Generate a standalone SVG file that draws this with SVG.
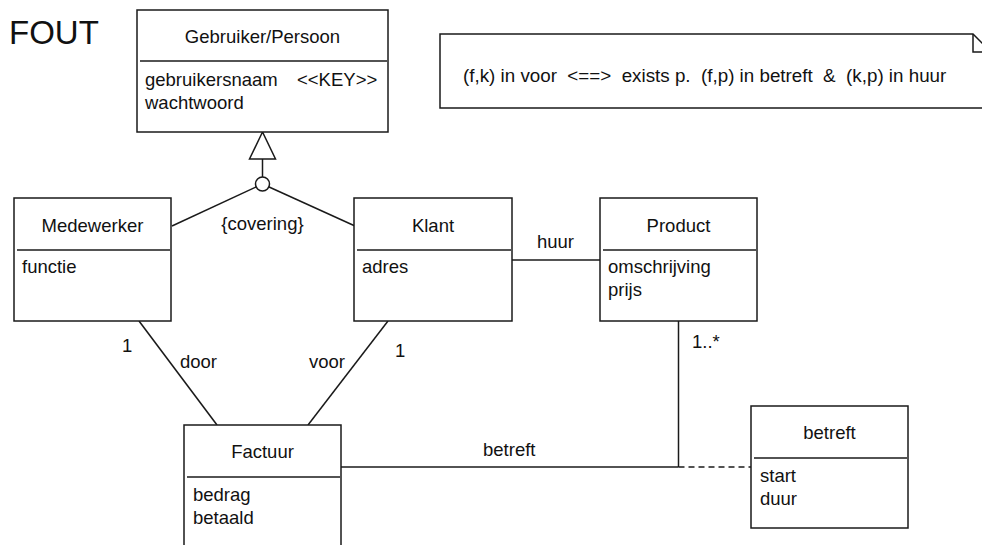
<svg xmlns="http://www.w3.org/2000/svg" width="982" height="545" viewBox="0 0 982 545">
<style>
  text { font-family: "Liberation Sans", Arial, sans-serif; font-size: 18.5px; fill: #111; }
  .t { text-anchor: middle; }
  .box { fill: #fff; stroke: #1a1a1a; stroke-width: 1.5; }
  .ln { fill: none; stroke: #1a1a1a; stroke-width: 1.5; }
  .dash { fill: none; stroke: #1a1a1a; stroke-width: 1.5; stroke-dasharray: 6 4; }
</style>
<rect x="0" y="0" width="982" height="545" fill="#fff"/>
<text x="9" y="44" style="font-size:33px">FOUT</text>

<g id="connectors">
  <line class="ln" x1="262.5" y1="159" x2="262.5" y2="184"/>
  <line class="ln" x1="262.5" y1="184" x2="172" y2="226"/>
  <line class="ln" x1="262.5" y1="184" x2="355" y2="226"/>
  <polygon class="box" points="262.5,132 249.5,159 275.5,159"/>
  <circle class="box" cx="262.5" cy="184" r="7"/>
  <text class="t" x="262.5" y="230">{covering}</text>
  <line class="ln" x1="512" y1="260" x2="600" y2="260"/>
  <text x="537" y="248">huur</text>
  <line class="ln" x1="139" y1="321" x2="217" y2="425"/>
  <text x="122" y="352">1</text>
  <text x="180" y="368">door</text>
  <line class="ln" x1="388" y1="321" x2="308" y2="425"/>
  <text x="309" y="368">voor</text>
  <text x="395" y="357">1</text>
  <line class="ln" x1="678.5" y1="321" x2="678.5" y2="467"/>
  <text x="692" y="348">1..*</text>
  <line class="ln" x1="341" y1="467" x2="678.5" y2="467"/>
  <text x="483" y="456">betreft</text>
  <line class="dash" x1="678.5" y1="467" x2="751" y2="467"/>
</g>

<g id="note">
  <path class="box" d="M440 34 H973 L991 52 V108 H440 Z"/>
  <path class="ln" d="M973 34 V52 H991"/>
  <text x="463" y="82" style="font-size:18.8px" xml:space="preserve">(f,k) in voor  &lt;==&gt;  exists p.  (f,p) in betreft  &amp;  (k,p) in huur</text>
</g>

<g id="gebruiker">
  <rect class="box" x="137" y="10" width="251" height="122"/>
  <line class="ln" x1="140" y1="61" x2="387" y2="61"/>
  <text class="t" x="262.5" y="43">Gebruiker/Persoon</text>
  <text x="145" y="86">gebruikersnaam<tspan x="297">&lt;&lt;KEY&gt;&gt;</tspan></text>
  <text x="145" y="109">wachtwoord</text>
</g>

<g id="medewerker">
  <rect class="box" x="14" y="198" width="157" height="123"/>
  <line class="ln" x1="17" y1="250" x2="170" y2="250"/>
  <text class="t" x="92.5" y="232">Medewerker</text>
  <text x="22" y="273">functie</text>
</g>

<g id="klant">
  <rect class="box" x="354" y="198" width="158" height="123"/>
  <line class="ln" x1="357" y1="250" x2="511" y2="250"/>
  <text class="t" x="433" y="232">Klant</text>
  <text x="362" y="273">adres</text>
</g>

<g id="product">
  <rect class="box" x="600" y="198" width="157" height="123"/>
  <line class="ln" x1="603" y1="250" x2="756" y2="250"/>
  <text class="t" x="678.5" y="232">Product</text>
  <text x="608" y="273">omschrijving</text>
  <text x="608" y="296">prijs</text>
</g>

<g id="factuur">
  <rect class="box" x="184" y="425" width="157" height="140"/>
  <line class="ln" x1="187" y1="477" x2="340" y2="477"/>
  <text class="t" x="262.5" y="458">Factuur</text>
  <text x="193" y="501">bedrag</text>
  <text x="193" y="524">betaald</text>
</g>

<g id="betreft">
  <rect class="box" x="751" y="406" width="157" height="122"/>
  <line class="ln" x1="754" y1="458" x2="907" y2="458"/>
  <text class="t" x="829.5" y="439">betreft</text>
  <text x="760" y="482">start</text>
  <text x="760" y="505">duur</text>
</g>
</svg>
